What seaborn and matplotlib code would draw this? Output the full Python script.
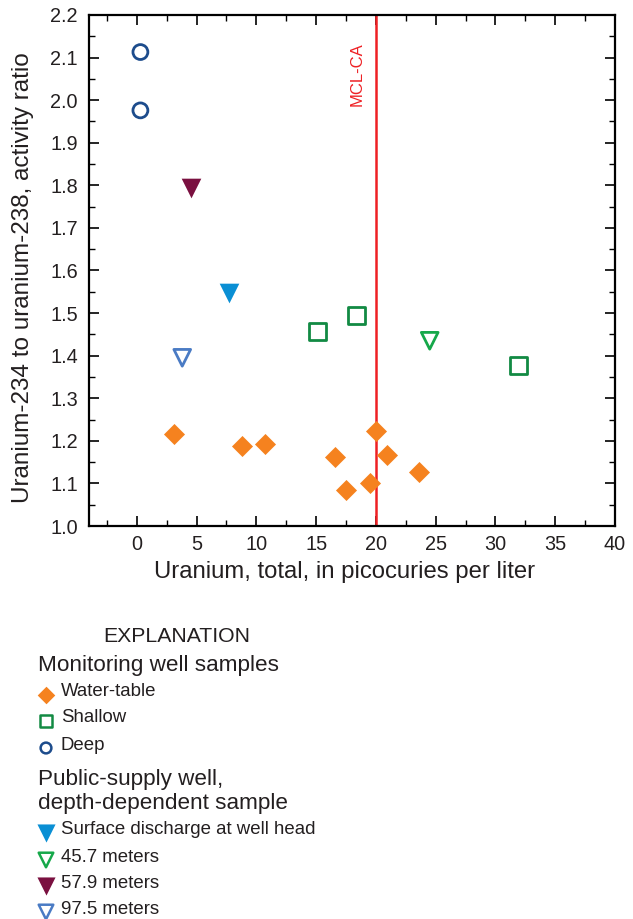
import matplotlib
matplotlib.use("Agg")
import matplotlib.pyplot as plt
import seaborn as sns
import pandas as pd
from matplotlib.ticker import MultipleLocator

sns.set_theme(style="white")
plt.rcParams['font.family'] = ['Liberation Sans', 'DejaVu Sans']

# ---- data ----
water_table_u = [3.1, 8.8, 10.7, 16.6, 17.5, 19.5, 20.0, 20.9, 23.6]
water_table_r = [1.217, 1.187, 1.193, 1.162, 1.085, 1.101, 1.223, 1.166, 1.126]
shallow_u = [15.1, 18.4, 31.9]
shallow_r = [1.456, 1.494, 1.376]
deep_u = [0.3, 0.3]
deep_r = [2.113, 1.976]
surface_u = [7.7]
surface_r = [1.548]
m457_u = [24.5]
m457_r = [1.435]
m579_u = [4.5]
m579_r = [1.793]
m975_u = [3.8]
m975_r = [1.395]
mcl_ca = 20

xticks = [0, 5, 10, 15, 20, 25, 30, 35, 40]
yticks = [1.0, 1.1, 1.2, 1.3, 1.4, 1.5, 1.6, 1.7, 1.8, 1.9, 2.0, 2.1, 2.2]

# ---- styles ----
C_ORANGE = '#F5821F'
C_SHALLOW = '#128A43'
C_DEEP = '#1D4C8C'
C_SURF = '#0A8FD4'
C_457 = '#16A84A'
C_579 = '#7A1040'
C_975 = '#4A7BC4'
C_RED = '#EE2024'
TXT = '#231F20'

W, H = 633, 919
fig = plt.figure(figsize=(W / 100, H / 100), dpi=100)
ax = fig.add_axes([89 / W, 1 - 526 / H, (615 - 89) / W, (526 - 15) / H])

groups = [
    (water_table_u, water_table_r, 'D', C_ORANGE, True, 115),
    (shallow_u, shallow_r, 's', C_SHALLOW, False, 150),
    (deep_u, deep_r, 'o', C_DEEP, False, 115),
    (surface_u, surface_r, 'v', C_SURF, True, 200),
    (m457_u, m457_r, 'v', C_457, False, 145),
    (m579_u, m579_r, 'v', C_579, True, 200),
    (m975_u, m975_r, 'v', C_975, False, 145),
]
for xs, ys, mk, col, filled, s in groups:
    df = pd.DataFrame({'u': xs, 'r': ys})
    if filled:
        sns.scatterplot(data=df, x='u', y='r', ax=ax, marker=mk, color=col,
                        s=s, linewidth=0, zorder=3)
    else:
        sns.scatterplot(data=df, x='u', y='r', ax=ax, marker=mk,
                        facecolors='none', edgecolor=col, s=s,
                        linewidth=2.0, zorder=3)

ax.axvline(mcl_ca, color=C_RED, lw=1.8, zorder=2)
ax.text(19.05, 2.061, 'MCL-CA', rotation=90, color=C_RED, fontsize=12,
        ha='right', va='center',
        family=['Liberation Sans Narrow', 'Liberation Sans', 'DejaVu Sans'])

ax.set_xlim(-4, 40)
ax.set_ylim(1.0, 2.2)
ax.set_xticks(xticks)
ax.set_yticks(yticks)
ax.set_xticklabels([str(v) for v in xticks])
ax.set_yticklabels([f'{v:.1f}' for v in yticks])
ax.xaxis.set_minor_locator(MultipleLocator(2.5))
ax.yaxis.set_minor_locator(MultipleLocator(0.05))
ax.tick_params(which='both', direction='in', top=True, right=True,
               bottom=True, left=True, colors='black', labelcolor=TXT)
ax.tick_params(which='major', length=7, width=1.2, labelsize=14.3)
ax.tick_params(axis='y', which='major', pad=8)
ax.tick_params(axis='x', which='major', pad=6.5)
ax.tick_params(which='minor', length=4, width=1.0)
for sp in ax.spines.values():
    sp.set_color('black')
    sp.set_linewidth(1.6)
ax.set_xlabel('Uranium, total, in picocuries per liter', fontsize=17.2,
              color=TXT)
ax.xaxis.set_label_coords((345 - 89) / (615 - 89), (526 - 561) / (526 - 15))
ax.set_ylabel('Uranium-234 to uranium-238, activity ratio', fontsize=17.5,
              color=TXT)
ax.yaxis.set_label_coords((34 - 89) / (615 - 89), (526 - 278) / (526 - 15))

# ---- explanation ----
lax = fig.add_axes([0, 0, 1, 1])
lax.set_xlim(0, W)
lax.set_ylim(H, 0)
lax.axis('off')

lax.text(177, 636, 'EXPLANATION', fontsize=15.3, ha='center', va='center', color=TXT)
lax.text(38, 666, 'Monitoring well samples', fontsize=16.2, ha='left', va='center', color=TXT)
lax.text(38, 780, 'Public-supply well,', fontsize=16.2, ha='left', va='center', color=TXT)
lax.text(38, 803, 'depth-dependent sample', fontsize=16.2, ha='left', va='center', color=TXT)

leg_items = [
    (694, 'Water-table', 'D', C_ORANGE, True, 80),
    (720, 'Shallow', 's', C_SHALLOW, False, 70),
    (747, 'Deep', 'o', C_DEEP, False, 60),
    (832, 'Surface discharge at well head', 'v', C_SURF, True, 170),
    (859, '45.7 meters', 'v', C_457, False, 110),
    (885, '57.9 meters', 'v', C_579, True, 170),
    (911, '97.5 meters', 'v', C_975, False, 110),
]
for yy, lab, mk, col, filled, s in leg_items:
    if filled:
        lax.scatter([46], [yy + 1], marker=mk, color=col, s=s, linewidth=0)
    else:
        lax.scatter([46], [yy + 1], marker=mk, facecolors='none',
                    edgecolors=col, s=s, linewidths=1.8)
    lax.text(61, yy - 2, lab, fontsize=13.4, ha='left', va='center', color=TXT)

fig.savefig('out.png', dpi=100)
